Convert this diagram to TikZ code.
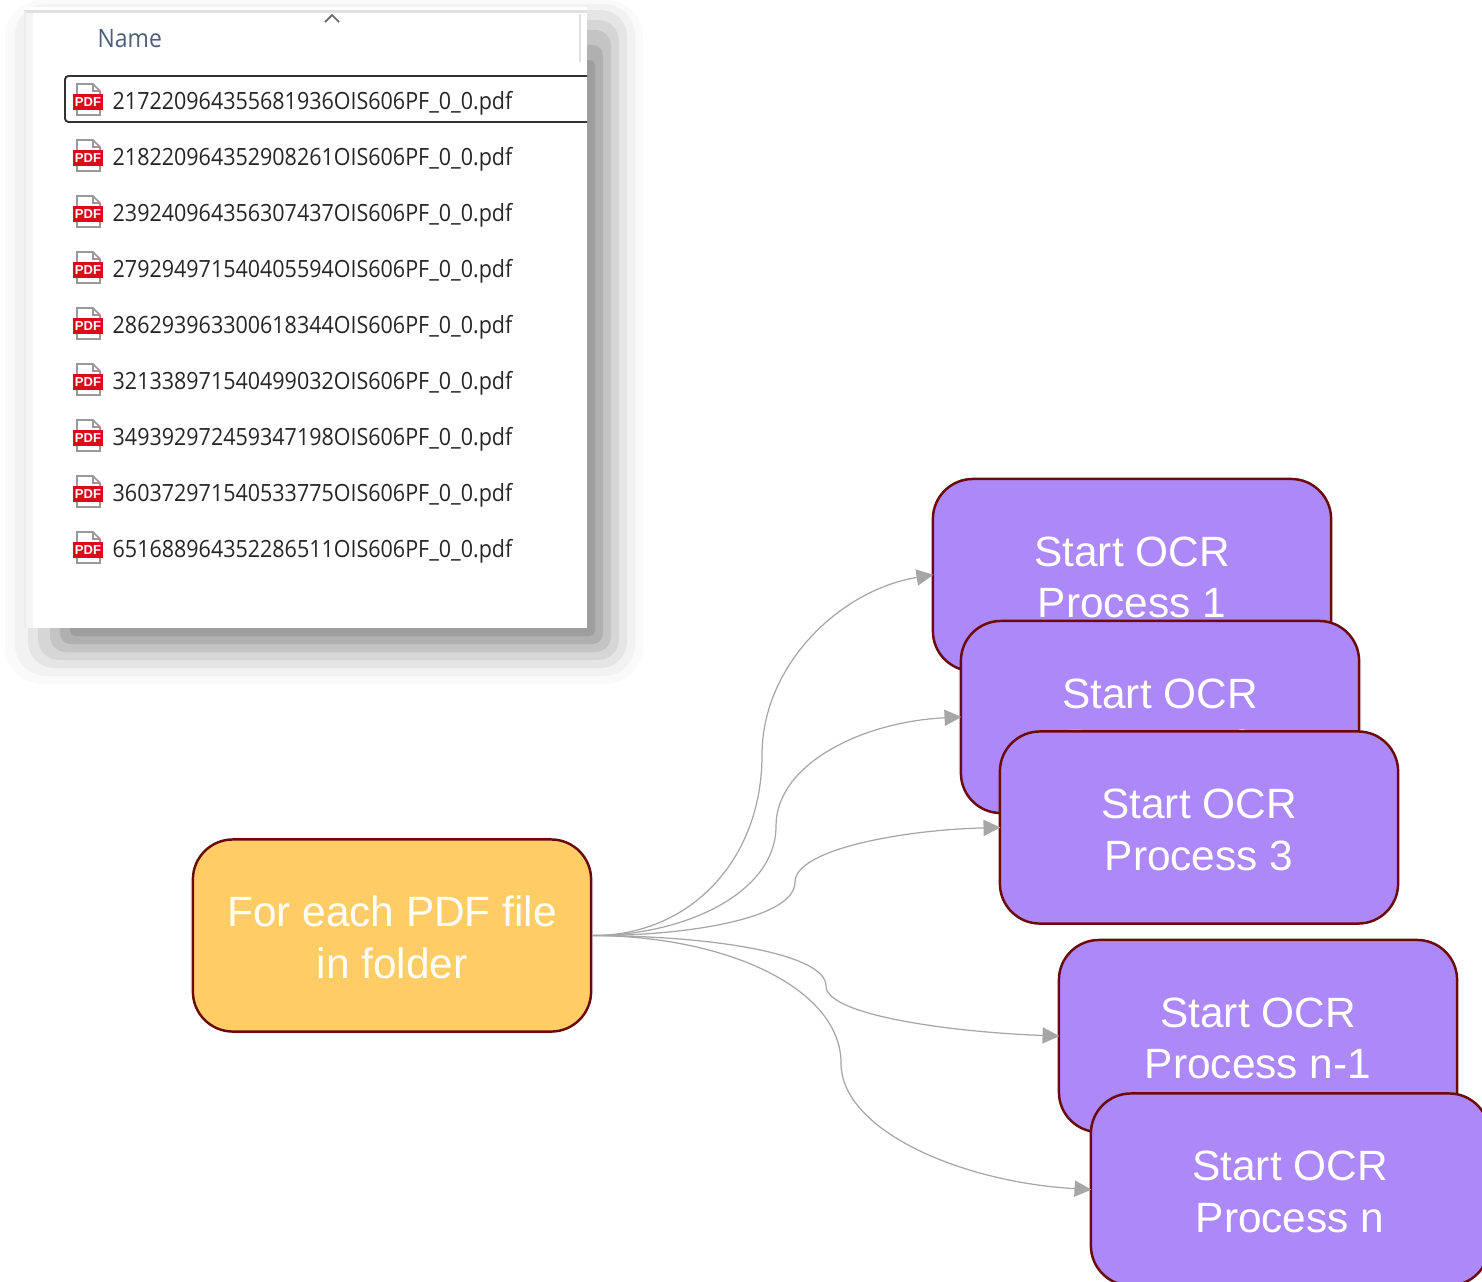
\documentclass[tikz,border=0pt]{standalone}
\usepackage{fontspec}
\setmainfont{Liberation Sans}
\newfontfamily\listfont[FakeStretch=0.905]{Open Sans}
\usetikzlibrary{arrows.meta}
\definecolor{boxline}{HTML}{6B0A0A}
\definecolor{ocrfill}{HTML}{AD88F9}
\definecolor{srcfill}{HTML}{FFCC66}
\definecolor{linkgray}{HTML}{A6A6A6}
\definecolor{pdfred}{HTML}{E0081C}
\definecolor{namegray}{HTML}{4C607A}
\newcommand{\boxlines}[2]{\rule{0pt}{9.8pt}#1\\#2}
\tikzset{
  procbox/.style={draw=boxline, line width=0.7pt, rounded corners=0.4cm, minimum width=3.98cm,
    minimum height=1.92cm, inner sep=0pt, align=center, text=white, font=\fontsize{12.05}{14.55}\selectfont},
  ocrbox/.style={procbox, fill=ocrfill},
  srcbox/.style={procbox, fill=srcfill},
  link/.style={draw=linkgray, line width=0.35pt, shorten >=-0.5pt, -{Triangle[length=4.8pt,width=4.6pt,fill=linkgray]}},
  filelabel/.style={anchor=west, inner sep=0pt, font=\listfont\fontsize{6.75}{8}\selectfont, text=black!85},
  pdfmark/.style={fill=pdfred, inner sep=0pt, minimum width=0.3cm, minimum height=0.16cm, text=white,
    font=\fontsize{3.7}{4}\bfseries\selectfont}
}
\begin{document}
\begin{tikzpicture}[x=0.01cm, y=-0.01cm]
  \useasboundingbox (0, 0) rectangle (1482, 1281) ;
  % window shadow, outer step first
  \foreach \i/\g/\lft/\tp in {7/98/5/0, 6/95/15/4, 5/90/28/10, 4/84/38/20, 3/77/50/30, 2/69/60/45, 1/62/70/60} {
    \fill[black!\the\numexpr100-\g\relax, rounded corners=\i*1.5pt]
      (\lft, \tp) rectangle (587+8*\i, 628+8*\i) ;
  }
  \fill[white] (27, 7) rectangle (587, 628) ;
  \fill[black!4] (27, 12) rectangle (33, 628) ;
  \draw[black!12, line width=0.6pt] (24, 11.5) -- (587, 11.5) ;
  \draw[black!7, line width=0.5pt] (25, 11) -- (25, 628) ;
  \draw[black!12, line width=0.5pt] (580, 14) -- (580, 62) ;
  \draw[black!60, line width=0.5pt] (325, 22) -- (332, 15) -- (339, 22) ;
  \node[anchor=west, inner sep=0pt, text=namegray, font=\listfont\fontsize{7.2}{8}\selectfont] (namehead) at (97, 39) {Name} ;
  \draw[black!80, line width=0.55pt, rounded corners=1pt] (587, 76) -- (65, 76) -- (65, 122) -- (587, 122) ;
  % file rows
  \foreach \n/\f in {0/217220964355681936, 1/218220964352908261, 2/239240964356307437,
    3/279294971540405594, 4/286293963300618344, 5/321338971540499032,
    6/349392972459347198, 7/360372971540533775, 8/651688964352286511} {
    \draw[black!40, fill=white, line width=0.45pt] (77, 84+56*\n) -- (93, 84+56*\n) -- (100, 91+56*\n)
      -- (100, 115+56*\n) -- (77, 115+56*\n) -- cycle ;
    \draw[black!40, line width=0.35pt] (93, 84+56*\n) -- (93, 91+56*\n) -- (100, 91+56*\n) ;
    \node[pdfmark] (icon\n) at (88, 102+56*\n) {PDF} ;
    \node[filelabel] (file\n) at (112, 103+56*\n) {\f OIS606PF\_0\_0.pdf} ;
  }
  % boxes, later ones cover earlier ones
  \node[srcbox] (folder) at (392, 935.5) {\boxlines{For each PDF file}{in folder}} ;
  \node[ocrbox] (ocr1) at (1132, 575) {\boxlines{Start OCR}{Process 1}} ;
  \node[ocrbox] (ocr2) at (1160, 717) {\boxlines{Start OCR}{Process 2}} ;
  \node[ocrbox] (ocr3) at (1199, 827.5) {\boxlines{Start OCR}{Process 3}} ;
  \node[ocrbox] (ocrm) at (1258, 1036) {\boxlines{Start OCR}{Process n-1}} ;
  \node[ocrbox] (ocrn) at (1290, 1189.5) {\boxlines{Start OCR}{Process n}} ;
  % links
  \draw[link] (folder.east) .. controls (690, 936) and (762, 860) .. (762, 755)
    .. controls (762, 665) and (840, 590) .. (ocr1.west) ;
  \draw[link] (folder.east) .. controls (680, 936) and (776, 895) .. (776, 826)
    .. controls (776, 765) and (860, 722) .. (ocr2.west) ;
  \draw[link] (folder.east) .. controls (680, 936) and (795, 920) .. (795, 882)
    .. controls (795, 850) and (900, 830) .. (ocr3.west) ;
  \draw[link] (folder.east) .. controls (720, 936) and (826, 955) .. (826, 986)
    .. controls (826, 1015) and (950, 1032) .. (ocrm.west) ;
  \draw[link] (folder.east) .. controls (730, 936) and (841, 990) .. (841, 1063)
    .. controls (841, 1130) and (960, 1182) .. (ocrn.west) ;
\end{tikzpicture}
\end{document}
